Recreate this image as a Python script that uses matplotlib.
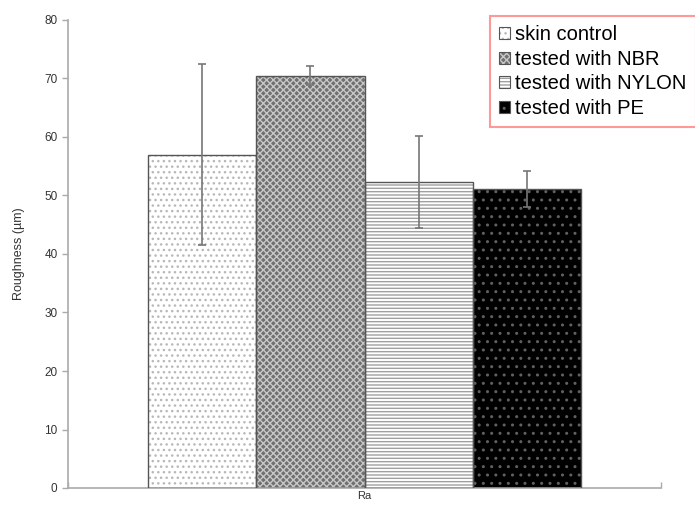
import matplotlib
matplotlib.use("Agg")
import matplotlib.pyplot as plt
from matplotlib.patches import Patch
from matplotlib.legend_handler import HandlerTuple
import numpy as np

plt.rcParams['font.family'] = ['Liberation Sans', 'DejaVu Sans']
plt.rcParams['hatch.linewidth'] = 1.0

category = "Ra"
series = ["skin control", "tested with NBR", "tested with NYLON", "tested with PE"]
values = [57.0, 70.5, 52.3, 51.1]
errors = [15.5, 1.6, 7.8, 3.1]
yticks = [0, 10, 20, 30, 40, 50, 60, 70, 80]

faces = ['white', '#707070', 'white', 'black']
hatch_cols = ['#b8b8b8', '#c8c8c8', '#a0a0a0', '#606060']
hatches = ['...', 'xxxxx', '-----', '..']

fig = plt.figure(figsize=(6.95, 5.05), dpi=100)
ax = fig.add_axes([68/695, 17/505, (661-68)/695, (488-20)/505])

width = 0.2
offsets = (np.arange(len(series)) - 1.5) * width
handles = []
for i, name in enumerate(series):
    ax.bar(offsets[i], values[i], width=width, color=faces[i],
           edgecolor=hatch_cols[i], hatch=hatches[i], linewidth=0, zorder=2)
    ax.bar(offsets[i], values[i], width=width, fill=False,
           edgecolor='#555555', linewidth=1.0, zorder=3)
    ax.errorbar(offsets[i], values[i], yerr=errors[i], fmt='none',
                ecolor='#777777', elinewidth=1.2, capsize=3, capthick=1.2, zorder=4)
    h1 = Patch(facecolor=faces[i], edgecolor=hatch_cols[i], hatch=hatches[i], linewidth=0)
    h2 = Patch(fill=False, edgecolor='#555555', linewidth=0.8)
    handles.append((h1, h2))

ax.set_xlim(-0.549, 0.549)
ax.set_ylim(0, 80)
ax.set_yticks(yticks)
ax.tick_params(axis='y', labelsize=8.5, labelcolor='#333333', color='#aaaaaa',
               length=4, width=1)
ax.set_xticks([-0.549, 0.549])
ax.set_xticklabels(['', ''])
ax.tick_params(axis='x', color='#aaaaaa', length=4, width=1, direction='in')
ax.set_xticks([0], minor=True)
ax.set_xticklabels([category], minor=True)
ax.tick_params(axis='x', which='minor', length=0, labelsize=8,
               labelcolor='#333333', pad=2)

for s in ['top', 'right']:
    ax.spines[s].set_visible(False)
for s in ['left', 'bottom']:
    ax.spines[s].set_color('#aaaaaa')
    ax.spines[s].set_linewidth(1.2)

ax.set_ylabel("Roughness (µm)", fontsize=9, color='#333333', labelpad=14)

leg = fig.legend(handles, series, loc='upper left',
                 handler_map={tuple: HandlerTuple(ndivide=1, pad=0)},
                 bbox_to_anchor=(490/695, 1 - 16/505), fontsize=14.5,
                 frameon=True, fancybox=False, handlelength=0.55,
                 handleheight=0.55, handletextpad=0.25, borderpad=0.45,
                 labelspacing=0.28, borderaxespad=0)
leg.get_frame().set_edgecolor('#ff8080')
leg.get_frame().set_linewidth(1.5)

fig.savefig("out.png", dpi=100, facecolor='white')
